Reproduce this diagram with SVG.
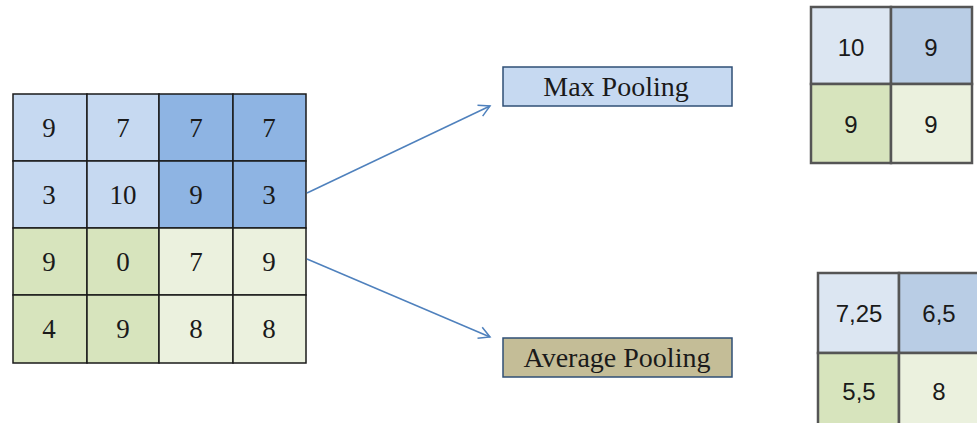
<svg xmlns="http://www.w3.org/2000/svg" width="977" height="423" viewBox="0 0 977 423">
<defs>
<style>
.c{stroke:#1a1a1a;stroke-width:1.5}
.r{stroke:#555;stroke-width:2.5}
.n{font-family:"Liberation Serif","DejaVu Serif",serif;font-size:27px;fill:#1a1a1a;text-anchor:middle}
.s{font-family:"Liberation Sans","Open Sans",sans-serif;font-size:24px;fill:#1a1a1a;text-anchor:middle}
.l{font-family:"Liberation Serif","DejaVu Serif",serif;font-size:28px;fill:#1a1a1a;text-anchor:middle}
.b1{fill:#C6D9F1}.b2{fill:#8EB4E3}.g1{fill:#D7E4BD}.g2{fill:#EBF1DE}
.rb1{fill:#DCE6F2}.rb2{fill:#B9CDE5}
.box{stroke:#2F4F75;stroke-width:1.5}
.arr{stroke:#4F81BD;stroke-width:1.5;fill:none}
</style>
<marker id="ah" markerWidth="14" markerHeight="14" refX="12" refY="7" orient="auto" markerUnits="userSpaceOnUse">
<path d="M1,1 L12,7 L1,13" fill="none" stroke="#4F81BD" stroke-width="1.5"/>
</marker>
</defs>
<rect width="977" height="423" fill="#fff"/>

<g id="input-grid">
<rect class="b1 c" x="13" y="94" width="74" height="67"/>
<rect class="b1 c" x="87" y="94" width="72" height="67"/>
<rect class="b2 c" x="159" y="94" width="74" height="67"/>
<rect class="b2 c" x="233" y="94" width="73" height="67"/>
<rect class="b1 c" x="13" y="161" width="74" height="67"/>
<rect class="b1 c" x="87" y="161" width="72" height="67"/>
<rect class="b2 c" x="159" y="161" width="74" height="67"/>
<rect class="b2 c" x="233" y="161" width="73" height="67"/>
<rect class="g1 c" x="13" y="228" width="74" height="67"/>
<rect class="g1 c" x="87" y="228" width="72" height="67"/>
<rect class="g2 c" x="159" y="228" width="74" height="67"/>
<rect class="g2 c" x="233" y="228" width="73" height="67"/>
<rect class="g1 c" x="13" y="295" width="74" height="68"/>
<rect class="g1 c" x="87" y="295" width="72" height="68"/>
<rect class="g2 c" x="159" y="295" width="74" height="68"/>
<rect class="g2 c" x="233" y="295" width="73" height="68"/>
<text class="n" x="49" y="137">9</text>
<text class="n" x="123" y="137">7</text>
<text class="n" x="196" y="137">7</text>
<text class="n" x="269" y="137">7</text>
<text class="n" x="49" y="204">3</text>
<text class="n" x="123" y="204">10</text>
<text class="n" x="196" y="204">9</text>
<text class="n" x="269" y="204">3</text>
<text class="n" x="49" y="271">9</text>
<text class="n" x="123" y="271">0</text>
<text class="n" x="196" y="271">7</text>
<text class="n" x="269" y="271">9</text>
<text class="n" x="49" y="338">4</text>
<text class="n" x="123" y="338">9</text>
<text class="n" x="196" y="338">8</text>
<text class="n" x="269" y="338">8</text>
</g>

<g id="connectors">
<line class="arr" x1="307" y1="193" x2="490" y2="106" marker-end="url(#ah)"/>
<line class="arr" x1="307" y1="259" x2="490" y2="337" marker-end="url(#ah)"/>
</g>

<g id="max-pooling">
<rect class="b1 box" x="503" y="67" width="229" height="39"/>
<text class="l" x="616" y="96">Max Pooling</text>
</g>

<g id="average-pooling">
<rect class="box" fill="#C4BD97" x="503" y="338" width="229" height="39"/>
<text class="l" x="617" y="367">Average Pooling</text>
</g>

<g id="max-result">
<rect class="rb1 r" x="811" y="7" width="80" height="77"/>
<rect class="rb2 r" x="891" y="7" width="81" height="77"/>
<rect class="g1 r" x="811" y="84" width="80" height="79"/>
<rect class="g2 r" x="891" y="84" width="81" height="79"/>
<text class="s" x="851" y="56">10</text>
<text class="s" x="931" y="56">9</text>
<text class="s" x="851" y="133">9</text>
<text class="s" x="931" y="133">9</text>
</g>

<g id="average-result">
<rect class="rb1 r" x="818" y="273" width="81" height="80"/>
<rect class="rb2 r" x="899" y="273" width="82" height="80"/>
<rect class="g1 r" x="818" y="353" width="81" height="80"/>
<rect class="g2 r" x="899" y="353" width="82" height="80"/>
<text class="s" x="859" y="322">7,25</text>
<text class="s" x="939" y="322">6,5</text>
<text class="s" x="859" y="400">5,5</text>
<text class="s" x="939" y="400">8</text>
</g>
</svg>
